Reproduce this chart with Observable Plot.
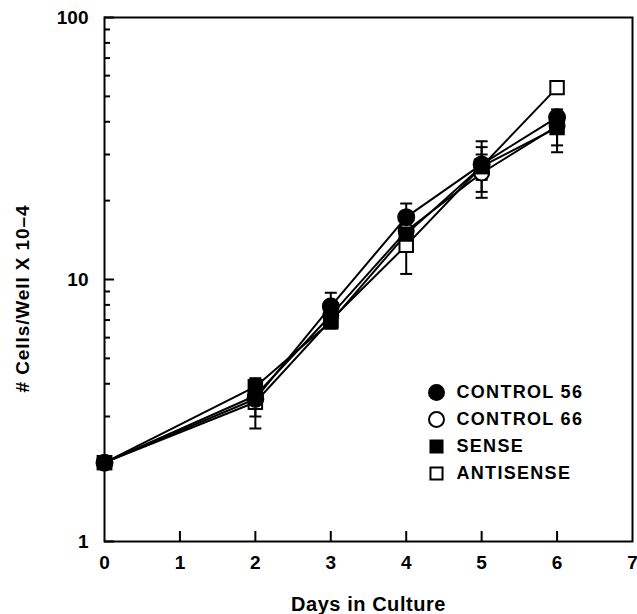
<!DOCTYPE html>
<html>
<head>
<meta charset="utf-8">
<script src="https://cdn.jsdelivr.net/npm/d3@7"></script>
<script src="https://cdn.jsdelivr.net/npm/@observablehq/plot@0.6"></script>
<style>
  body { margin: 0; background: #fff; }
  #chart svg { display: block; }
  #chart .spaced-legend text { letter-spacing: 1.3px; }
  #chart .spaced-x text { letter-spacing: 0.55px; }
  #chart .spaced-y text { letter-spacing: 0.9px; }
</style>
</head>
<body>
<div id="chart"></div>
<script>
// ---- data ----
const days = [0, 2, 3, 4, 5, 6];
const seriesNames = ["CONTROL 56", "CONTROL 66", "SENSE", "ANTISENSE"];
const control56 = [2.0, 3.5, 7.9, 17.3, 27.5, 41.6];
const control66 = [2.0, 3.6, 7.3, 15.3, 25.5, 38.5];
const sense     = [2.0, 3.9, 6.9, 14.9, 27.0, 38.0];
const antisense = [2.0, 3.4, 7.0, 13.5, 27.0, 54.0];
// error bars [low, high] per day (null = none)
const control56Err = [null, [3.0, 4.0], [7.0, 8.9], [15.5, 19.5], [25.0, 30.0], [39.0, 44.6]];
const control66Err = [null, null, null, [14.0, 16.5], [20.5, 28.0], [30.6, 42.0]];
const senseErr     = [null, [3.6, 4.2], [6.5, 7.4], [14.0, 16.0], [24.0, 32.0], [32.5, 40.0]];
const antisenseErr = [null, [2.7, 3.8], null, [10.5, 15.0], [21.6, 33.7], null];
const xTicks = [0, 1, 2, 3, 4, 5, 6, 7];
const xInnerTicks = [1, 2, 3, 4, 5, 6];
const yMajorTicks = [1, 10, 100];
const yMinorTicks = [2, 3, 4, 5, 6, 7, 8, 9, 20, 30, 40, 50, 60, 70, 80, 90];
const yLabel = "# Cells/Well X 10\u20134";
const xLabel = "Days in Culture";

// ---- build tables ----
const valuesBySeries = [control56, control66, sense, antisense];
const errBySeries = [control56Err, control66Err, senseErr, antisenseErr];
const styles = {
  "CONTROL 56": {symbol: "circle", fill: "black", r: 8},
  "CONTROL 66": {symbol: "circle", fill: "white", r: 7.5},
  "SENSE":      {symbol: "square", fill: "black", r: 7.6},
  "ANTISENSE":  {symbol: "square", fill: "white", r: 7.6}
};
const points = [];
const errs = [];
seriesNames.forEach((name, i) => {
  days.forEach((d, j) => {
    points.push({series: name, day: d, value: valuesBySeries[i][j]});
    const e = errBySeries[i][j];
    if (e) { errs.push({series: name, day: d, lo: e[0], hi: e[1]}); }
  });
});

const W = 637, H = 614, ML = 104, MR = 5, MT = 17, MB = 73;
const capSym = {draw(ctx) { ctx.moveTo(-6, 0); ctx.lineTo(6, 0); }};
const drawOrder = ["CONTROL 66", "ANTISENSE", "SENSE", "CONTROL 56"];

const marks = [
  Plot.frame({stroke: "black", strokeWidth: 2}),
  // inward ticks drawn by the axis marks (negative tick size = inside the frame)
  Plot.axisY({ticks: yMinorTicks, tickSize: -6, tickFormat: null, label: null, stroke: "black", strokeWidth: 2, text: null}),
  Plot.axisY({ticks: yMajorTicks, tickSize: -10, tickPadding: 26, tickFormat: d => String(d), label: null, fontSize: 19, fontWeight: "bold", stroke: "black", strokeWidth: 2}),
  Plot.axisX({ticks: xInnerTicks, tickSize: -10, tickFormat: null, label: null, stroke: "black", strokeWidth: 2, text: null}),
  Plot.axisX({ticks: xTicks, tickSize: 0, tickPadding: 14, tickFormat: d => String(d), label: null, fontSize: 19, fontWeight: "bold"}),
  Plot.text([yLabel], {text: d => d, frameAnchor: "left", dx: -82, dy: 19, rotate: -90, textAnchor: "middle", lineAnchor: "middle", fontSize: 19, fontWeight: "bold", className: "spaced-y"}),
  Plot.text([xLabel], {text: d => d, frameAnchor: "bottom", dy: 63, textAnchor: "middle", lineAnchor: "middle", fontSize: 20, fontWeight: "bold", className: "spaced-x"}),
  Plot.line(points, {x: "day", y: "value", z: "series", stroke: "black", strokeWidth: 2}),
  Plot.ruleX(errs, {x: "day", y1: "lo", y2: "hi", stroke: "black", strokeWidth: 2}),
  Plot.dot(errs, {x: "day", y: "lo", symbol: capSym, stroke: "black", strokeWidth: 2, fill: "none"}),
  Plot.dot(errs, {x: "day", y: "hi", symbol: capSym, stroke: "black", strokeWidth: 2, fill: "none"})
];
drawOrder.forEach(name => {
  const s = styles[name];
  marks.push(Plot.dot(points.filter(p => p.series === name), {
    x: "day", y: "value", symbol: s.symbol, r: s.r, fill: s.fill, stroke: "black", strokeWidth: 2
  }));
});
// legend
seriesNames.forEach((name, i) => {
  const s = styles[name];
  marks.push(Plot.dot([name], {frameAnchor: "top-left", dx: 332, dy: 375 + 27 * i,
    symbol: s.symbol, r: s.symbol === "circle" ? 7.5 : 6.8, fill: s.fill, stroke: "black", strokeWidth: 2}));
  marks.push(Plot.text([name], {text: d => d, frameAnchor: "top-left", dx: 352, dy: 375 + 27 * i,
    textAnchor: "start", lineAnchor: "middle", fontSize: 18, fontWeight: "bold", className: "spaced-legend"}));
});

const chart = Plot.plot({
  width: W,
  height: H,
  marginLeft: ML,
  marginRight: MR,
  marginTop: MT,
  marginBottom: MB,
  style: {fontFamily: "'Liberation Sans', Arial, sans-serif", color: "black", background: "white"},
  x: {domain: [0, 7], axis: null},
  y: {type: "log", domain: [1, 100], axis: null},
  marks
});
document.getElementById("chart").appendChild(chart);
</script>
</body>
</html>
